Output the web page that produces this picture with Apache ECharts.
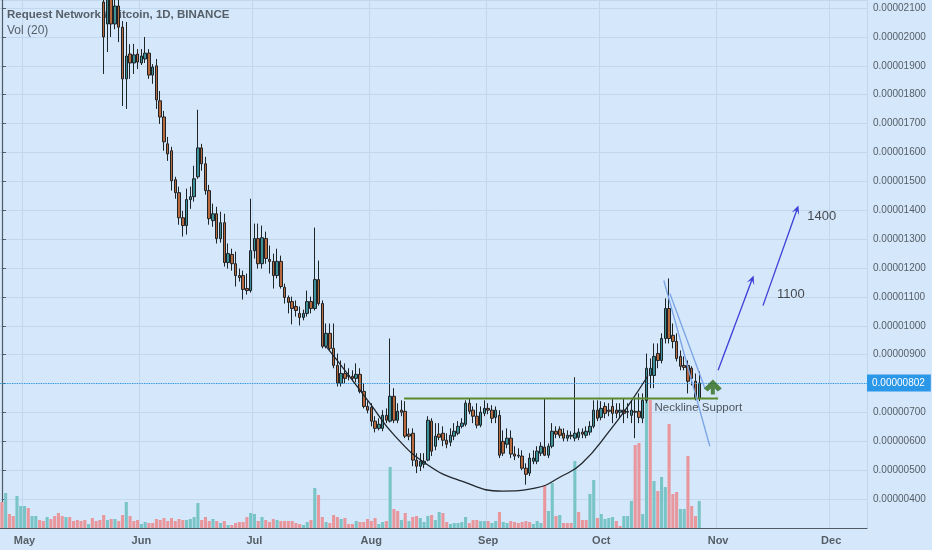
<!DOCTYPE html>
<html><head><meta charset="utf-8">
<script src="https://cdn.jsdelivr.net/npm/echarts@6/dist/echarts.min.js"></script>
<style>html,body{margin:0;padding:0;background:#d5e7fb}#c{width:932px;height:550px}</style>
</head><body><div id="c"></div>
<script>
// ---- data (prices in satoshi = 1e-8 BTC) ----
const monthNames = ['Jan','Feb','Mar','Apr','May','Jun','Jul','Aug','Sep','Oct','Nov','Dec'];
const firstDay = '2018-04-25';
const dayCount = 230;
const candleStart = 27; // index of first candle (2018-05-22)
// [open, close, low, high]
const ohlc = [
[2121,2000,1872,2200],[2045,2150,1948,2190],[2160,2045,2000,2210],[2045,2107,2027,2140],[2107,2034,1982,2131],
[2034,1855,1761,2055],[1855,1934,1751,2052],[1941,1910,1855,1975],[1910,1938,1872,1976],[1941,1913,1889,1958],
[1910,1934,1903,1958],[1924,1944,1910,2000],[1944,1868,1855,1958],[1868,1896,1838,1906],[1900,1782,1751,1924],
[1779,1723,1699,1813],[1723,1637,1606,1744],[1630,1595,1571,1654],[1606,1502,1468,1620],[1506,1461,1440,1516],
[1461,1374,1350,1482],[1374,1347,1309,1398],[1347,1437,1316,1475],[1437,1447,1405,1482],[1447,1509,1430,1554],
[1516,1616,1509,1748],[1616,1561,1537,1630],[1561,1468,1454,1585],[1468,1371,1350,1488],[1364,1388,1343,1423],
[1388,1302,1285,1412],[1302,1357,1288,1395],[1357,1219,1205,1388],[1219,1250,1198,1285],[1247,1215,1191,1267],
[1215,1174,1136,1257],[1174,1167,1153,1198],[1174,1126,1091,1191],[1129,1122,1108,1181],[1122,1260,1115,1440],
[1260,1302,1233,1354],[1302,1215,1198,1354],[1215,1305,1198,1347],[1302,1233,1215,1326],[1230,1223,1181,1278],
[1223,1174,1129,1250],[1174,1223,1164,1267],[1223,1136,1129,1243],[1133,1098,1077,1146],[1098,1081,1043,1105],
[1084,1060,1005,1101],[1067,1053,1032,1088],[1043,1029,1001,1067],[1029,1043,1019,1056],[1043,1084,1032,1122],
[1084,1060,1043,1101],[1060,1160,1053,1340],[1160,1077,1070,1226],[1077,929,922,1088],[929,974,922,1008],
[974,922,915,1008],[922,863,853,1008],[863,801,790,904],[801,835,790,880],[835,818,801,870],
[828,825,811,853],[825,818,808,846],[818,832,804,870],[832,773,766,853],[773,721,714,801],
[721,708,697,739],[718,670,652,732],[670,645,631,687],[645,659,638,680],[645,690,635,708],
[690,673,663,714],[670,756,665,956],[756,673,663,784],[673,704,663,732],[708,701,687,742],
[704,618,611,739],[625,618,604,645],[628,535,514,645],[535,514,490,559],[514,531,497,559],
[521,531,507,559],[535,673,531,687],[670,566,549,680],[583,618,569,663],[625,614,604,663],
[628,604,583,652],[604,590,576,628],[597,621,583,645],[618,635,604,663],[628,652,621,670],
[652,663,645,680],[659,732,652,742],[732,704,694,749],[708,687,663,721],[687,656,645,732],
[656,701,649,721],[697,714,687,742],[714,708,694,732],[708,680,663,725],[683,708,663,721],
[690,552,542,708],[600,559,549,638],[590,611,576,645],[611,556,542,638],[556,549,535,583],
[552,549,542,576],[549,507,500,569],[507,486,450,524],[490,542,480,559],[531,542,521,569],
[531,566,521,583],[559,583,549,597],[580,552,549,749],[552,583,542,593],[583,635,576,663],
[635,625,611,652],[642,621,611,652],[628,611,600,645],[611,621,600,638],[621,618,607,635],
[611,628,600,822],[614,632,604,645],[632,625,611,645],[621,635,611,652],[632,652,621,670],
[652,708,645,742],[708,680,670,742],[683,714,673,739],[721,697,680,735],[708,704,687,732],
[721,697,663,749],[708,697,680,732],[701,708,680,732],[708,697,663,749],[704,701,680,732],
[690,708,663,742],[704,701,611,749],[704,683,663,766],[680,742,663,766],[742,853,732,904],
[828,853,784,887],[828,894,784,939],[904,880,853,939],[880,956,870,974],[956,1060,939,1095],
[1060,956,939,1164],[967,946,922,1008],[946,887,877,974],[894,860,846,915],[863,856,846,894],
[863,808,766,880],[853,818,794,860],[808,749,742,835],[749,802,739,842]
];
// daily volume (relative units) and direction (1 = up / teal, 0 = down / red)
const volume = [
26,35,14,12,32,22,22,20,12,12, 8,7,11,9,12,15,12,11,11,7,
8,7,8,4,10,7,8,13,8,9, 9,7,13,26,12,7,8,4,6,5,
5,9,8,10,7,10,7,9,8,8, 9,11,25,8,11,7,9,7,5,7,
3,3,5,6,6,11,15,14,7,11, 8,6,9,8,7,7,7,7,5,4,
3,6,8,40,33,11,6,5,13,11, 9,10,4,4,7,6,6,9,7,10,
4,6,7,61,19,17,8,15,7,11, 12,10,6,12,13,8,16,15,6,4,
5,5,6,11,5,8,8,7,7,7, 5,7,16,6,5,7,6,5,6,7,
6,4,7,5,42,17,45,12,13,5, 5,5,67,16,8,8,34,48,10,14,
9,10,11,7,2,12,12,27,83,85, 14,135,128,47,37,51,41,104,34,36,
19,19,72,22,12,27
];
const volUp = [
0,1,0,0,1,1,1,0,1,1, 0,0,1,0,0,0,0,1,0,0,
0,0,0,1,0,0,0,0,1,0, 1,0,0,1,0,0,0,1,1,0,
0,0,0,0,0,0,0,0,0,1, 1,1,1,0,0,0,1,0,1,0,
1,0,0,0,0,0,1,1,0,1, 0,0,0,1,0,0,0,0,0,0,
1,1,0,1,0,0,1,0,0,0, 1,0,0,0,1,0,0,0,0,0,
1,1,0,1,0,0,1,0,1,0, 0,1,1,1,0,1,1,0,0,1,
1,1,1,1,0,0,0,1,1,0, 1,1,0,1,1,0,0,0,0,0,
0,1,1,1,0,1,1,0,1,0, 0,0,1,0,0,0,1,1,0,1,
1,1,1,0,0,1,1,1,0,0, 1,1,0,1,0,1,1,0,0,0,
1,1,0,0,0,1
];
// annotation drawings (x = day index, y = price in satoshi)
const cupCurve = [[86,929],[91,846],[97.6,732],[104.3,618],[113,518],[122,462],[132.7,428],[141.4,438],[148.6,480],[153.9,524],[161.3,638],[166.6,732],[171.4,828]];
const neckline = [[106.7,748],[190,748]];
const wedgeA = [[175.6,1157],[187.8,583]];
const wedgeB = [[177.2,1112],[186.5,784]];
const arrow1100 = [[190,846],[199,1160]];
const arrow1400 = [[201.9,1070],[210.9,1402]];
const targetLabels = [{t:'1100', x:209.3, y:1108},{t:'1400', x:217.5, y:1378}];
const necklineLabel = {t:'Neckline Support', x:173, y:716};
const supportArrow = [188.6, 788];

// ---- build ----
const categories = [];
const d0 = new Date(firstDay + 'T00:00:00Z');
for (let i = 0; i < dayCount; i++) {
  const d = new Date(d0.getTime() + i * 86400000);
  categories.push(d.toISOString().slice(0,10));
}
const isMonthStart = (i) => categories[i] && categories[i].slice(8) === '01';
const candleData = categories.map((c,i) => {
  const k = i - candleStart;
  return (k >= 0 && k < ohlc.length) ? ohlc[k] : ['-','-','-','-'];
});
const TEAL_V = '#79c4c6', RED_V = '#e8979d';
const volData = volume.map((v,i) => ({value: v, itemStyle: {color: volUp[i] ? TEAL_V : RED_V}}));
const lastPrice = ohlc[ohlc.length-1][1];
const fmt = v => (v * 1e-8).toFixed(8);

const chart = echarts.init(document.getElementById('c'), null, {renderer:'canvas'});
const lineAnno = (data, color, width, extra) => Object.assign({
  type:'line', xAxisIndex:1, yAxisIndex:0, data, symbol:'none', silent:true, z:5,
  lineStyle:{color, width}, animation:false
}, extra||{});
const arrowAnno = (pts) => ({
  type:'line', xAxisIndex:1, yAxisIndex:0, data:[], silent:true, z:5,
  markLine:{silent:true, symbol:['none','path://M5,0 L10,11 L5,6 L0,11 Z'], symbolSize:[8,9],
    label:{show:false}, lineStyle:{color:'#3b3fd8', width:1.3, type:'solid'},
    data:[[{coord:pts[0]},{coord:pts[1]}]]}
});
const hiddenAxis = {show:false, axisLine:{show:false}, axisTick:{show:false}, axisLabel:{show:false}, splitLine:{show:false}};

chart.setOption({
  animation:false,
  backgroundColor:'#d5e7fb',
  textStyle:{fontFamily:'Arial, "Liberation Sans", sans-serif'},
  title:[
    {text:'Request Network / Bitcoin, 1D, BINANCE', left:2, top:4, z:0,
     textStyle:{fontSize:11.5, fontWeight:'bold', color:'#56606a'}},
    {text:'Vol (20)', left:2, top:20, z:0,
     textStyle:{fontSize:12, fontWeight:'normal', color:'#56606a'}}
  ],
  grid:{left:0, right:65, top:0, bottom:22},
  xAxis:[
    {type:'category', data:categories, boundaryGap:true,
     axisLine:{lineStyle:{color:'#4e5a64', width:1.2}},
     axisTick:{interval:(i)=>isMonthStart(i), length:4, lineStyle:{color:'#4e5a64'}},
     axisLabel:{interval:(i)=>isMonthStart(i), formatter:(v)=>monthNames[+v.slice(5,7)-1],
       color:'#555e66', fontSize:11, fontWeight:'bold', margin:7},
     splitLine:{show:true, interval:(i)=>isMonthStart(i), lineStyle:{color:'#c1d7ee', width:1}}
    },
    Object.assign({type:'value', min:-0.5, max:dayCount-0.5}, hiddenAxis)
  ],
  yAxis:[
    {type:'value', position:'right', min:300, max:2128, interval:100, scale:false,
     axisLine:{show:true, lineStyle:{color:'#4e5a64', width:1.2}},
     axisTick:{show:true, length:4, lineStyle:{color:'#4e5a64'}},
     axisLabel:{color:'#555e66', fontSize:10, margin:6,
       formatter:(v)=> v < 350 ? '' : fmt(v)},
     splitLine:{show:true, lineStyle:{color:'#c1d7ee', width:1}}
    },
    Object.assign({type:'value', min:0, max:528, position:'right'}, hiddenAxis)
  ],
  series:[
    {type:'bar', xAxisIndex:0, yAxisIndex:1, data:volData, barWidth:'82%', z:1, silent:true},
    {type:'candlestick', xAxisIndex:0, yAxisIndex:0, data:candleData, clip:true, barWidth:3, z:3,
     itemStyle:{color:'#3b909a', color0:'#b8693d', borderColor:'#1e2326', borderColor0:'#1e2326', borderWidth:1},
     markLine:{silent:true, symbol:'none', animation:false,
       lineStyle:{color:'#2b97e8', type:'dotted', width:1.2},
       label:{show:true, position:'end', distance:0, formatter:()=>fmt(lastPrice),
         backgroundColor:'#2b97e8', color:'#fff', fontSize:10, padding:[4,6,3,5]},
       data:[{yAxis:lastPrice}]}
    },
    lineAnno(cupCurve, '#20262b', 1.3, {smooth:0.5}),
    lineAnno(neckline, '#5b8a2b', 2),
    lineAnno(wedgeA, '#7aa3e6', 1.3),
    lineAnno(wedgeB, '#7aa3e6', 1.3),
    arrowAnno(arrow1100),
    arrowAnno(arrow1400),
    {type:'scatter', xAxisIndex:1, yAxisIndex:0, silent:true, z:6,
     data:[supportArrow], symbol:'path://M0,9 L9,0 L18,9 L14,12 L11,9 L11,15 L7,15 L7,9 L4,12 Z',
     symbolSize:[18,15], itemStyle:{color:'#2d6b19'}},
    {type:'scatter', xAxisIndex:1, yAxisIndex:0, silent:true, z:6, symbolSize:1,
     itemStyle:{color:'rgba(0,0,0,0)'},
     data:targetLabels.map(o=>({value:[o.x,o.y], label:{show:true, formatter:o.t, position:'inside',
        color:'#222', fontSize:13}}))},
    {type:'scatter', xAxisIndex:1, yAxisIndex:0, silent:true, z:6, symbolSize:1,
     itemStyle:{color:'rgba(0,0,0,0)'},
     data:[{value:[necklineLabel.x, necklineLabel.y], label:{show:true, formatter:necklineLabel.t,
        position:'right', distance:0, color:'#2a2f33', fontSize:11.5}}]}
  ]
});
</script></body></html>
